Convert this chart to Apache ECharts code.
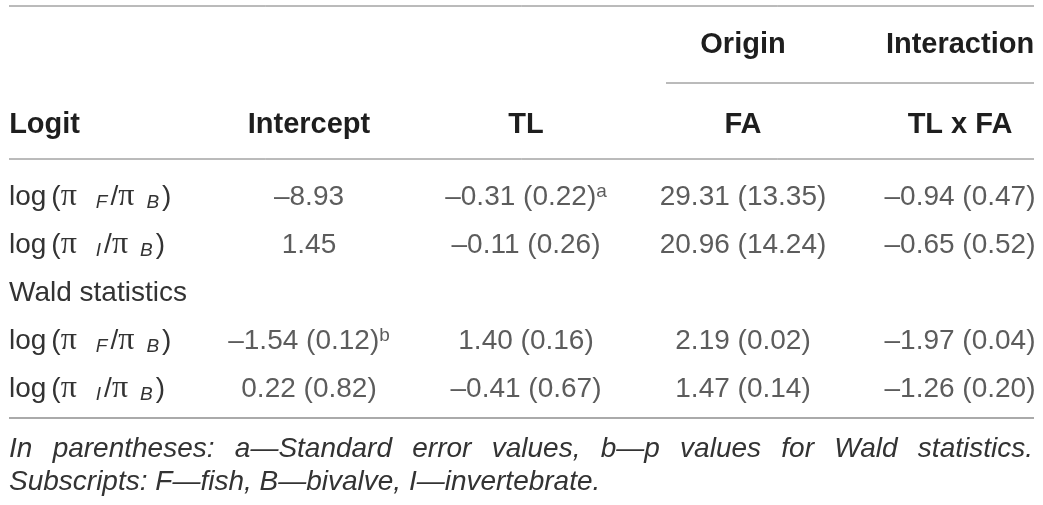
<!DOCTYPE html>
<html>
<head>
    <meta charset="utf-8">
    <title>Logit table</title>
    <script src="https://cdn.jsdelivr.net/npm/echarts@6/dist/echarts.min.js"></script>
    <style>
        html, body { margin: 0; padding: 0; background: #fff; }
        #main { width: 1043px; height: 505px; }
    </style>
</head>
<body>
<div id="main"></div>
<script>
    // columns and rows of the table
    var columns = ['Intercept', 'TL', 'FA', 'TL x FA'];
    var groupHeads = ['', '', 'Origin', 'Interaction'];
    var rowSubs = ['F', 'I', null, 'F', 'I'];   // null = section row "Wald statistics"
    var sectionLabel = 'Wald statistics';

    // estimates (standard errors)
    var coefF = [-8.93, -0.31, 29.31, -0.94];
    var seF = [null, 0.22, 13.35, 0.47];
    var coefI = [1.45, -0.11, 20.96, -0.65];
    var seI = [null, 0.26, 14.24, 0.52];
    // wald statistics (p values)
    var waldF = [-1.54, 1.40, 2.19, -1.97];
    var pF = [0.12, 0.16, 0.02, 0.04];
    var waldI = [0.22, -0.41, 1.47, -1.26];
    var pI = [0.82, 0.67, 0.14, 0.20];
    // superscript marks
    var marks = [{row: 0, col: 1, mark: 'a'}, {row: 3, col: 0, mark: 'b'}];

    var note1 = 'In parentheses: a\u2014Standard error values, b\u2014p values for Wald statistics.';
    var note2 = 'Subscripts: F\u2014fish, B\u2014bivalve, I\u2014invertebrate.';

    var TEXT = '#333';
    var HEAD = '#1e1e1e';
    var RULE = '#777';
    var SERIF = '"Liberation Serif", "DejaVu Serif", serif';

    function fmt(v) {
        return (v < 0 ? '\u2013' : '') + Math.abs(v).toFixed(2);
    }

    var rowValues = [[coefF, seF], [coefI, seI], null, [waldF, pF], [waldI, pI]];
    var cells = [];
    rowValues.forEach(function (rv, r) {
        if (!rv) return;
        for (var c = 0; c < columns.length; c++) {
            var txt = fmt(rv[0][c]);
            if (rv[1][c] != null) txt += ' (' + fmt(rv[1][c]) + ')';
            var lab = '{v|' + txt + '}';
            marks.forEach(function (m) {
                if (m.row === r && m.col === c) lab += '{u|' + m.mark + '}';
            });
            cells.push({value: [c, r], lab: lab});
        }
    });

    // justify first footnote line
    var ctx = document.createElement('canvas').getContext('2d');
    ctx.font = 'italic 28px "Liberation Sans"';
    var words = note1.split(' ');
    var wsum = 0;
    words.forEach(function (w) { wsum += ctx.measureText(w).width; });
    var gap = (1024 - wsum) / (words.length - 1);
    var noteText = words.map(function (w) { return '{w|' + w + '}'; }).join('{s| }') + '\n{w|' + note2 + '}';

    var rowKeys = rowSubs.map(function (s, i) { return 'r' + i; });

    var myChart = echarts.init(document.getElementById('main'));
    var option = {
        animation: false,
        title: {
            left: 9,
            top: 433,
            padding: 0,
            text: noteText,
            textStyle: {
                fontFamily: 'Liberation Sans',
                fontSize: 28,
                fontStyle: 'italic',
                fontWeight: 'normal',
                color: TEXT,
                lineHeight: 33,
                rich: {
                    w: {fontFamily: 'Liberation Sans', fontSize: 28, fontStyle: 'italic', color: TEXT, lineHeight: 33},
                    s: {width: gap, fontSize: 28, lineHeight: 33}
                }
            }
        },
        grid: {left: 309, right: 83, top: 197, bottom: 116},
        xAxis: [{
            type: 'category',
            data: columns,
            boundaryGap: false,
            axisLine: {show: false},
            axisTick: {show: false},
            axisLabel: {show: false},
            splitLine: {show: false}
        }, {
            type: 'category',
            position: 'top',
            data: columns,
            boundaryGap: false,
            axisLine: {show: false},
            axisTick: {show: false},
            splitLine: {show: false},
            axisLabel: {
                margin: 58,
                interval: 0,
                fontFamily: 'Liberation Sans',
                fontSize: 29,
                fontWeight: 'bold',
                color: HEAD
            }
        }, {
            type: 'category',
            position: 'top',
            data: groupHeads,
            boundaryGap: false,
            axisLine: {show: false},
            axisTick: {show: false},
            splitLine: {show: false},
            axisLabel: {
                margin: 138,
                interval: 0,
                fontFamily: 'Liberation Sans',
                fontSize: 29,
                fontWeight: 'bold',
                color: HEAD
            }
        }],
        yAxis: {
            type: 'category',
            data: rowKeys,
            inverse: true,
            boundaryGap: false,
            name: 'Logit',
            nameLocation: 'start',
            nameGap: 58,
            nameTextStyle: {
                fontFamily: 'Liberation Sans',
                fontSize: 29,
                fontWeight: 'bold',
                color: HEAD,
                align: 'right',
                verticalAlign: 'bottom',
                padding: [0, 229, 0, 0]
            },
            axisLine: {show: false},
            axisTick: {show: false},
            splitLine: {show: false},
            axisLabel: {
                margin: 300,
                align: 'left',
                interval: 0,
                fontFamily: 'Liberation Sans',
                fontSize: 28,
                lineHeight: 30,
                color: TEXT,
                formatter: function (val, idx) {
                    var sub = rowSubs[idx];
                    if (!sub) return sectionLabel;
                    return 'log{g1| }({p|\u03c0}{g2| }{s|' + sub + '}{g3| }/{p|\u03c0}{g4| }{s|B}{g3| })';
                },
                rich: {
                    p: {fontFamily: SERIF, fontSize: 32, color: TEXT, lineHeight: 30},
                    s: {fontFamily: 'Liberation Sans', fontStyle: 'italic', fontSize: 19, color: TEXT,
                        lineHeight: 12, verticalAlign: 'bottom'},
                    g1: {width: 5, lineHeight: 30},
                    g2: {width: 19, lineHeight: 30},
                    g3: {width: 3, lineHeight: 30},
                    g4: {width: 12, lineHeight: 30}
                }
            }
        },
        series: [{
            type: 'scatter',
            silent: true,
            symbolSize: 1,
            itemStyle: {color: 'transparent'},
            data: cells.map(function (d) { return {value: d.value, lab: d.lab}; }),
            label: {
                show: true,
                position: 'inside',
                formatter: function (p) { return p.data.lab; },
                rich: {
                    v: {fontFamily: 'Liberation Sans', fontSize: 28, color: TEXT, lineHeight: 30},
                    u: {fontFamily: 'Liberation Sans', fontSize: 19, color: TEXT, lineHeight: 18, verticalAlign: 'top'}
                }
            }
        }],
        graphic: [
            {type: 'line', shape: {x1: 9, y1: 6, x2: 1034, y2: 6}, style: {stroke: RULE, lineWidth: 1}},
            {type: 'line', shape: {x1: 666, y1: 83, x2: 1034, y2: 83}, style: {stroke: RULE, lineWidth: 1}},
            {type: 'line', shape: {x1: 9, y1: 159, x2: 1034, y2: 159}, style: {stroke: RULE, lineWidth: 1}},
            {type: 'line', shape: {x1: 9, y1: 418, x2: 1034, y2: 418}, style: {stroke: '#aaa', lineWidth: 2}}
        ]
    };
    myChart.setOption(option);
</script>
</body>
</html>
